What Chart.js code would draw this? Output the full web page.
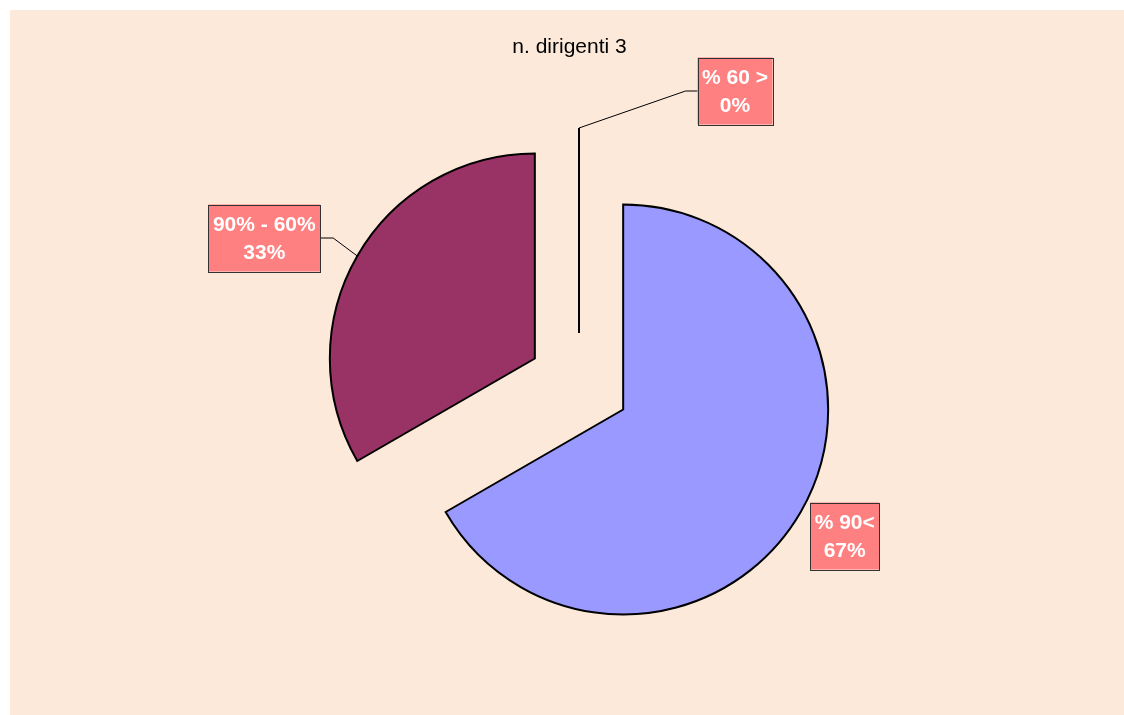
<!DOCTYPE html>
<html>
<head>
<meta charset="utf-8">
<script src="https://cdn.jsdelivr.net/npm/chart.js@4"></script>
<style>
  body { margin: 0; background: #fff; }
  #myChart { position: absolute; left: 10px; top: 10px; background: #fde9da; }
</style>
</head>
<body>
<canvas id="myChart" width="1114" height="705"></canvas>
<script>
var title = "n. dirigenti 3";
var labels = ["% 90<", "90% - 60%", "% 60 >"];
var values = [2, 1, 0];
var colors = ["#9999ff", "#993366", "#ffffcc"];

// label box position relative to the outer middle point of each slice
var labelShift = [[44, 24], [-93, -18], [156, -37]];
var explode = 51;

// pull every slice out along its middle angle (Excel style explosion)
var explodePlugin = {
  id: "explode",
  afterDatasetUpdate(chart, args) {
    var meta = chart.getDatasetMeta(args.index);
    meta.data.forEach(function (el) {
      var mid = (el.startAngle + el.endAngle) / 2;
      el.x += Math.cos(mid) * explode;
      el.y += Math.sin(mid) * explode;
    });
  },
};

var labelPlugin = {
  id: "excelLabels",
  afterDatasetsDraw(chart) {
    var c = chart.ctx;
    var meta = chart.getDatasetMeta(0);
    var total = values.reduce((a, b) => a + b, 0);
    c.save();

    // title
    c.font = "21px 'Liberation Sans', Arial, sans-serif";
    c.fillStyle = "#000";
    c.textAlign = "center";
    c.textBaseline = "alphabetic";
    c.fillText(title, 559.5, 42.5);

    meta.data.forEach(function (el, i) {
      var mid = (el.startAngle + el.endAngle) / 2;
      var ax = el.x + Math.cos(mid) * el.outerRadius;
      var ay = el.y + Math.sin(mid) * el.outerRadius;

      // zero slices are skipped by Chart.js, draw them as a line
      if (values[i] === 0) {
        c.strokeStyle = "#000";
        c.lineWidth = 2;
        c.beginPath();
        c.moveTo(el.x, el.y);
        c.lineTo(ax, ay);
        c.stroke();
      }

      var pct = Math.round((values[i] / total) * 100) + "%";
      c.font = "bold 21px 'Liberation Sans', Arial, sans-serif";
      var w = Math.max(c.measureText(labels[i]).width, c.measureText(pct).width) + 9;
      var h = 67;
      var bx = ax + labelShift[i][0];
      var by = ay + labelShift[i][1];
      var left = bx - w / 2, right = bx + w / 2;

      // leader line
      var edge = null;
      if (ax > right + 14) edge = right;
      if (ax < left - 14) edge = left;
      if (edge !== null) {
        var elbow = edge + (ax > right ? 13 : -12);
        c.strokeStyle = "#000";
        c.lineWidth = 1;
        c.beginPath();
        c.moveTo(ax, ay);
        c.lineTo(elbow, by);
        c.lineTo(edge, by);
        c.stroke();
      }

      c.fillStyle = "#ff8080";
      c.fillRect(left, by - h / 2, w, h);
      c.strokeStyle = "#333";
      c.lineWidth = 1;
      c.strokeRect(Math.round(left) + 0.5, Math.round(by - h / 2) + 0.5, Math.round(w), h);

      c.fillStyle = "#fff";
      c.textAlign = "center";
      c.textBaseline = "middle";
      c.fillText(labels[i], bx, by - 13);
      c.fillText(pct, bx, by + 15);
    });
    c.restore();
  },
};

var ctx = document.getElementById("myChart").getContext("2d");
var chart = new Chart(ctx, {
  type: "pie",
  data: {
    labels: labels,
    datasets: [
      {
        data: values,
        backgroundColor: colors,
        borderColor: "#000",
        borderWidth: 2,
        borderJoinStyle: "miter",
        radius: 205,
        offset: 0,
        hoverOffset: 0,
      },
    ],
  },
  options: {
    responsive: false,
    animation: false,
    events: [],
    layout: { padding: { left: 24, right: 0, top: 43, bottom: 0 } },
    plugins: {
      legend: { display: false },
      title: { display: false },
      tooltip: { enabled: false },
    },
  },
  plugins: [explodePlugin, labelPlugin],
});
</script>
</body>
</html>
